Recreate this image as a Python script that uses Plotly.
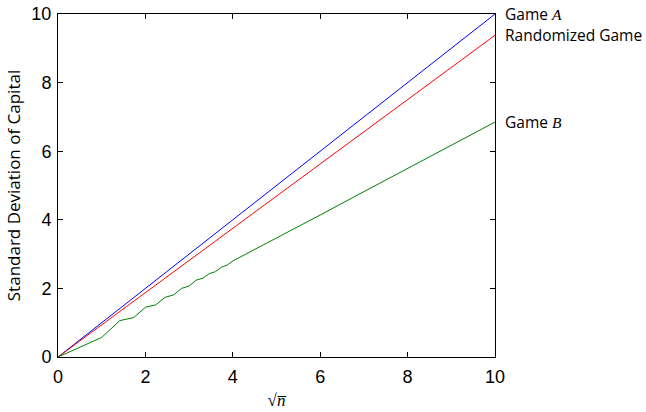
import plotly.graph_objects as go

# x positions are sqrt(n)
x_b = [0, 1, 1.4142, 1.7321, 2, 2.2361, 2.4495, 2.6458, 2.8284, 3, 3.1623,
       3.3166, 3.4641, 3.6056, 3.7417, 3.873, 4, 5, 6, 7, 8, 9, 10]
game_b = [0, 0.57, 1.06, 1.15, 1.45, 1.52, 1.74, 1.81, 2.00, 2.07, 2.24,
          2.30, 2.43, 2.49, 2.62, 2.68, 2.80, 3.46, 4.14, 4.82, 5.49, 6.17, 6.85]
x_a = [0, 10]
game_a = [0, 10]
x_r = [0, 10]
randomized = [0, 9.38]

fig = go.Figure()
fig.add_trace(go.Scatter(x=x_a, y=game_a, mode="lines", line=dict(color="#0000ff", width=1)))
fig.add_trace(go.Scatter(x=x_r, y=randomized, mode="lines", line=dict(color="#ff0000", width=1)))
fig.add_trace(go.Scatter(x=x_b, y=game_b, mode="lines", line=dict(color="#008000", width=1)))

sans = "'Open Sans', Lato, sans-serif"
serif = "'Liberation Serif', serif"
labels = [
    (game_a[-1], f"Game <span style=\"font-family:{serif}\"><i>A</i></span>"),
    (randomized[-1], "Randomized Game"),
    (game_b[-1], f"Game <span style=\"font-family:{serif}\"><i>B</i></span>"),
]
for yv, t in labels:
    fig.add_annotation(x=1, xref="paper", y=yv, yref="y", text=t, showarrow=False,
                       xanchor="left", yanchor="middle", xshift=8,
                       font=dict(family=sans, size=15.5, color="black"))

axis_common = dict(range=[0, 10], dtick=2, ticks="inside", ticklen=5, tickwidth=1,
                   tickcolor="black", showline=True, linecolor="black", linewidth=1,
                   mirror="ticks", showgrid=False, zeroline=False, automargin=False,
                   tickfont=dict(family="'Liberation Sans', Arial, sans-serif", size=18, color="black"))

fig.update_layout(
    width=646, height=412,
    margin=dict(l=58, r=151, t=14, b=55, autoexpand=False),
    paper_bgcolor="white", plot_bgcolor="white",
    showlegend=False,
    xaxis=dict(**axis_common, ticklabelstandoff=3,
               title=dict(text="√<i>n\u0305</i>", font=dict(family=serif, size=17, color="black"), standoff=8)),
    yaxis=dict(**axis_common, ticklabelstandoff=2,
               title=dict(text="Standard Deviation of Capital", font=dict(family=sans, size=17, color="black"), standoff=6)),
)

fig.write_html("out.html", config={"displayModeBar": False},
               post_script="document.body.style.margin='0';document.body.style.padding='0';")
